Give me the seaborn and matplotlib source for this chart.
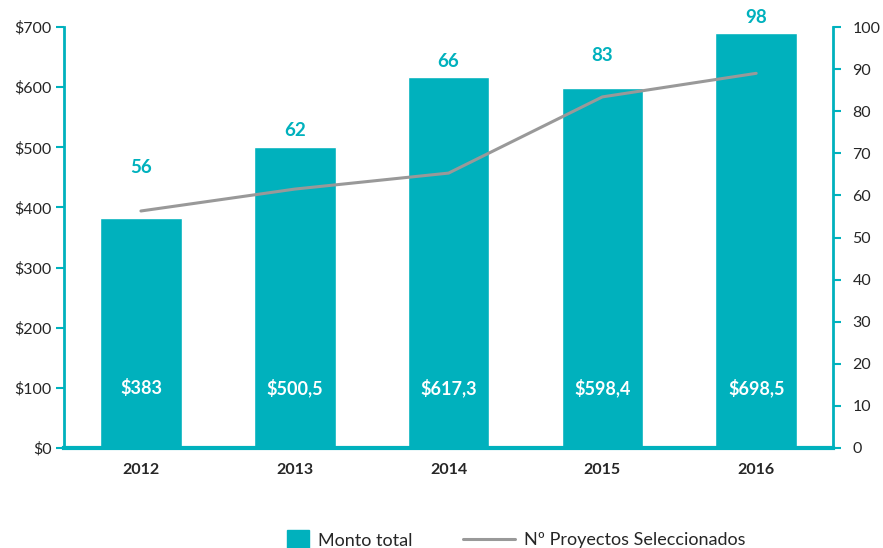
import numpy as np
import pandas as pd
import matplotlib
matplotlib.use("Agg")
import matplotlib.pyplot as plt
import seaborn as sns
from matplotlib.patches import Patch
from matplotlib.lines import Line2D

# Data
years = ["2012", "2013", "2014", "2015", "2016"]
monto = [383, 500.5, 617.3, 598.4, 690]
monto_labels = ["$383", "$500,5", "$617,3", "$598,4", "$698,5"]
proyectos = [56.3, 61.5, 65.3, 83.4, 89]
proyectos_labels = ["56", "62", "66", "83", "98"]
proyectos_label_y = [466, 528, 643, 652, 715]  # label heights (left axis units)

teal = "#00b1bd"
grey = "#999999"

sns.set_theme(style="white")
plt.rcParams["font.family"] = ["Lato", "DejaVu Sans"]

df = pd.DataFrame({"year": years, "monto": monto})

fig = plt.figure(figsize=(8.83, 5.48), dpi=100)
ax = fig.add_axes([0.0725, 0.1825, 0.871, 0.7682])

sns.barplot(data=df, x="year", y="monto", color=teal, saturation=1,
            width=0.53, ax=ax)
ax.set_xlim(-0.5, 4.5)
ax.set_ylim(0, 700)
ax.set_yticks(range(0, 701, 100))
ax.set_yticklabels([f"${v}" for v in range(0, 701, 100)], fontsize=11.5)
ax.set_xlabel("")
ax.set_ylabel("")
ax.tick_params(axis="x", length=0, pad=11)
for lbl in ax.get_xticklabels():
    lbl.set_fontweight("bold")
    lbl.set_fontsize(11.5)
ax.tick_params(axis="y", length=6, width=1.5, color=teal, pad=3, left=True)

for side in ["top", "right"]:
    ax.spines[side].set_visible(False)
ax.spines["left"].set_color(teal)
ax.spines["left"].set_linewidth(2)
ax.spines["bottom"].set_color(teal)
ax.spines["bottom"].set_linewidth(3)

# values inside bars
for i, txt in enumerate(monto_labels):
    ax.text(i, 100, txt, ha="center", va="center", color="white",
            fontsize=13, fontweight="bold")

# counts above bars
for i, txt in enumerate(proyectos_labels):
    ax.text(i, proyectos_label_y[i], txt, ha="center", va="center",
            color=teal, fontsize=13.5, fontweight="bold", clip_on=False)

ax2 = ax.twinx()
sns.lineplot(x=np.arange(len(years)), y=proyectos, color=grey,
             linewidth=2.2, ax=ax2)
ax2.set_ylim(0, 100)
ax2.set_yticks(range(0, 101, 10))
ax2.set_yticklabels([str(v) for v in range(0, 101, 10)], fontsize=11.5)
ax2.tick_params(axis="y", length=6, width=1.5, color=teal, pad=8, right=True)
for side in ["top", "left", "bottom"]:
    ax2.spines[side].set_visible(False)
ax2.spines["right"].set_color(teal)
ax2.spines["right"].set_linewidth(2)
ax2.set_ylabel("")

# legend: two parts so the square and the line get their own sizes
fig.legend([Patch(facecolor=teal, edgecolor=teal)], ["Monto total"],
           loc="center", bbox_to_anchor=(350 / 883, 1 - 540 / 548),
           frameon=False, fontsize=13, handlelength=1.2, handleheight=1.3,
           handletextpad=0.5)
fig.legend([Line2D([0], [0], color=grey, linewidth=2.2)],
           ["Nº Proyectos Seleccionados"],
           loc="center", bbox_to_anchor=(604 / 883, 1 - 540 / 548),
           frameon=False, fontsize=13, handlelength=2.9, handletextpad=0.5)

fig.savefig("out.png", dpi=100)
